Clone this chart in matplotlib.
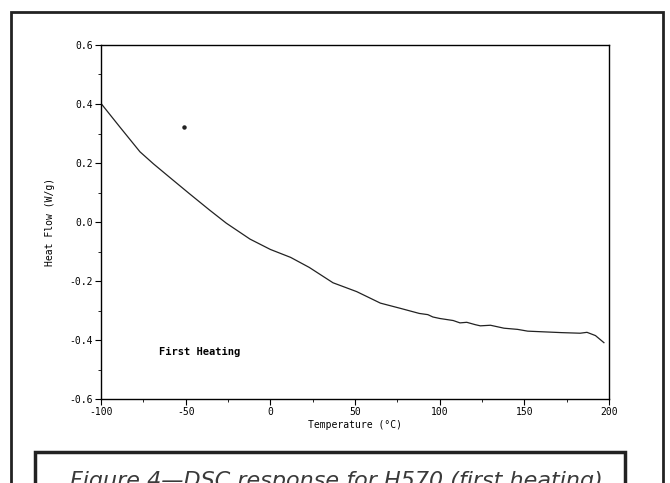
import matplotlib
matplotlib.use('Agg')
from matplotlib import pyplot as plt
from matplotlib.patches import Rectangle
from matplotlib.ticker import MultipleLocator

# DSC trace
temperature = [-100, -89, -77, -69, -60, -48, -36, -26, -12, 0, 12, 23, 37,
               51, 65, 77, 88, 93, 96, 100, 108, 112, 116, 121, 124, 130,
               138, 146, 152, 160, 172, 183, 187, 192, 197]
heat_flow = [0.402, 0.323, 0.238, 0.197, 0.154, 0.097, 0.041, -0.004, -0.058,
             -0.093, -0.12, -0.154, -0.206, -0.236, -0.275, -0.293, -0.31,
             -0.314, -0.322, -0.327, -0.334, -0.342, -0.340, -0.348, -0.352,
             -0.350, -0.360, -0.364, -0.370, -0.372, -0.375, -0.377, -0.374,
             -0.385, -0.409]
stray_dot = (-51, 0.321)

x_ticks = [-100, -50, 0, 50, 100, 150, 200]
y_ticks = [-0.6, -0.4, -0.2, 0.0, 0.2, 0.4, 0.6]

mono = 'DejaVu Sans Mono'

fig = plt.figure(figsize=(6.7, 4.83), dpi=100)
ax = fig.add_axes([101 / 670, 1 - 399 / 483, 508 / 670, 354 / 483])

ax.plot(temperature, heat_flow, color='#222222', lw=0.9)
ax.plot(*stray_dot, 'o', color='#222222', ms=2.2)

ax.set_xlim(-100, 200)
ax.set_ylim(-0.6, 0.6)
ax.set_xticks(x_ticks)
ax.set_yticks(y_ticks)
ax.set_xticklabels([str(t) for t in x_ticks], fontfamily=mono, fontsize=7)
ax.set_yticklabels(['%.1f' % t for t in y_ticks], fontfamily=mono, fontsize=7)
ax.xaxis.set_minor_locator(MultipleLocator(25))
ax.yaxis.set_minor_locator(MultipleLocator(0.1))
ax.tick_params(which='major', length=4, width=0.8, pad=2)
ax.tick_params(which='minor', length=2, width=0.6)
for s in ax.spines.values():
    s.set_linewidth(1.0)

ax.set_xlabel('Temperature (°C)', fontfamily=mono, fontsize=7, labelpad=2)
ax.set_ylabel('Heat Flow (W/g)', fontfamily=mono, fontsize=7, labelpad=10)
ax.text(-66, -0.44, 'First Heating', fontfamily=mono, fontsize=7.5,
        fontweight='bold', va='center')

# outer frame and caption box
fig.patches.append(Rectangle((11 / 670, -0.2), 652 / 670, 1.2 - 12 / 483,
                             transform=fig.transFigure, fill=False,
                             lw=2, ec='#222222'))
fig.patches.append(Rectangle((35 / 670, -0.2), 590 / 670, 0.2 + 31 / 483,
                             transform=fig.transFigure, fill=False,
                             lw=2.5, ec='#222222'))
fig.text(336 / 670, 1 - 481 / 483, 'Figure 4\u2014DSC response for H570 (first heating)',
         ha='center', va='center', fontsize=16, fontstyle='italic',
         fontfamily='DejaVu Sans', color='#3a3a3a')

plt.savefig('out.png', dpi=100)
